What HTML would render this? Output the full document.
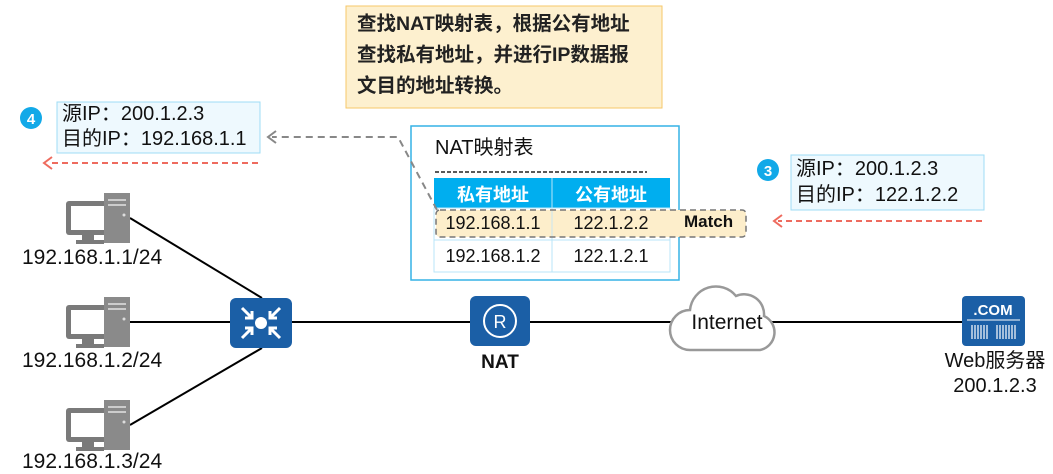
<!DOCTYPE html>
<html><head><meta charset="utf-8"><style>
body{margin:0;width:1053px;height:474px;background:#fff;overflow:hidden;position:relative;font-family:"Liberation Sans","Noto Sans CJK SC",sans-serif;color:#111}
.a{position:absolute;white-space:nowrap}
</style></head><body>
<svg class="a" style="left:0;top:0" width="1053" height="474">
<defs>
<g id="pc"><rect x="0" y="8" width="44" height="34" rx="3" fill="#7a7a7a"/><rect x="5" y="13" width="34" height="24" fill="#fff"/><rect x="16" y="42" width="12" height="6" fill="#7a7a7a"/><rect x="10" y="47" width="28" height="4" fill="#7a7a7a"/><rect x="38" y="0" width="26" height="50" fill="#8a8a8a"/><rect x="42" y="6" width="18" height="2" fill="#ccc"/><rect x="42" y="11" width="18" height="2" fill="#ccc"/><circle cx="58" cy="22" r="1.5" fill="#ddd"/></g>
</defs>
<line x1="130" y1="218" x2="262" y2="298" stroke="#000" stroke-width="2"/>
<line x1="130" y1="322" x2="232" y2="322" stroke="#000" stroke-width="2"/>
<line x1="130" y1="425" x2="262" y2="348" stroke="#000" stroke-width="2"/>
<line x1="292" y1="322" x2="965" y2="322" stroke="#000" stroke-width="2"/>
<use href="#pc" x="66" y="193"/><use href="#pc" x="66" y="297"/><use href="#pc" x="66" y="400"/>
<rect x="230" y="298" width="62" height="50" rx="6" fill="#1b5fa6"/>
<circle cx="261" cy="323" r="6" fill="#fff"/>
<g stroke="#fff" stroke-width="3" fill="none"><path d="M242 308l10 10M252 311v7h-7"/><path d="M280 308l-10 10M270 311v7h7"/><path d="M242 338l10-10M252 335v-7h-7"/><path d="M280 338l-10-10M270 335v-7h7"/></g>
<rect x="470" y="296" width="60" height="50" rx="6" fill="#1b5fa6"/>
<circle cx="500" cy="321" r="16" fill="none" stroke="#fff" stroke-width="2"/>
<text x="500" y="328" font-size="18" fill="#fff" text-anchor="middle" font-family="Liberation Sans">R</text>
<path d="M690 350 h70 a18 18 0 0 0 4 -34 a20 20 0 0 0 -28 -20 a26 26 0 0 0 -46 14 a20 20 0 0 0 0 40z" fill="#fff" stroke="#999" stroke-width="2.5"/>
<rect x="962" y="296" width="63" height="50" rx="4" fill="#1b5fa6"/>
<text x="993" y="315" font-size="15" font-weight="bold" fill="#fff" text-anchor="middle">.COM</text>
<line x1="967" y1="320" x2="1020" y2="320" stroke="#fff"/>
<g stroke="#fff" stroke-width="1.2"><path d="M972 325v14M975 325v14M978 325v14M981 325v14M984 325v14M987 325v14M997 325v14M1000 325v14M1003 325v14M1006 325v14M1009 325v14M1012 325v14M1015 325v14"/></g>
<rect x="346" y="6" width="316" height="102" fill="#fdf0cf" stroke="#f6c76a"/>
<rect x="57" y="102" width="203" height="51" fill="#eef9fe" stroke="#9fdcf5"/>
<circle cx="31" cy="118" r="11" fill="#12a9e8"/><text x="31" y="124" font-size="15" font-weight="bold" fill="#fff" text-anchor="middle">4</text>
<line x1="258" y1="163" x2="48" y2="163" stroke="#ee6b5e" stroke-width="2" stroke-dasharray="6,4"/>
<path d="M52 157l-8 6 8 6" fill="none" stroke="#ee6b5e" stroke-width="2"/>
<rect x="411" y="126" width="268" height="154" fill="#fff" stroke="#35b2e6" stroke-width="1.5"/>
<rect x="434" y="178" width="236" height="30" fill="#00aeef"/>
<rect x="434" y="208" width="236" height="64" fill="none" stroke="#b9e6f8"/>
<line x1="552" y1="178" x2="552" y2="272" stroke="#b9e6f8"/>
<line x1="434" y1="240" x2="670" y2="240" stroke="#b9e6f8"/>
<rect x="436" y="210" width="310" height="27" rx="4" fill="#fdeecb" stroke="#777" stroke-width="1.5" stroke-dasharray="6,4"/>
<line x1="552" y1="211" x2="552" y2="236" stroke="#c9e6f0"/>
<path d="M437 210 L398 137 L272 137" fill="none" stroke="#888" stroke-width="2" stroke-dasharray="7,5"/>
<path d="M276 131l-8 6 8 6" fill="none" stroke="#888" stroke-width="2"/>
<line x1="435" y1="172" x2="647" y2="172" stroke="#222" stroke-width="1.5" stroke-dasharray="4,2"/>
<rect x="791" y="155" width="193" height="55" fill="#eef9fe" stroke="#9fdcf5"/>
<circle cx="768" cy="170" r="11" fill="#12a9e8"/><text x="768" y="176" font-size="15" font-weight="bold" fill="#fff" text-anchor="middle">3</text>
<line x1="982" y1="221" x2="778" y2="221" stroke="#ee6b5e" stroke-width="2" stroke-dasharray="6,4"/>
<path d="M782 215l-8 6 8 6" fill="none" stroke="#ee6b5e" stroke-width="2"/>
</svg>
<div class="a" style="left:357px;top:9px;font-size:19.5px;line-height:31px;font-weight:bold;color:#222">查找NAT映射表，根据公有地址<br>查找私有地址，并进行IP数据报<br>文目的地址转换。</div>
<div class="a" style="left:62px;top:102px;font-size:20px;line-height:25px">源IP：200.1.2.3<br>目的IP：192.168.1.1</div>
<div class="a" style="left:796px;top:156px;font-size:20px;line-height:26px">源IP：200.1.2.3<br>目的IP：122.1.2.2</div>
<div class="a" style="left:435px;top:131px;font-size:20px">NAT映射表</div>
<div class="a" style="left:434px;top:181px;width:118px;text-align:center;color:#fff;font-weight:bold;font-size:18px">私有地址</div>
<div class="a" style="left:552px;top:181px;width:118px;text-align:center;color:#fff;font-weight:bold;font-size:18px">公有地址</div>
<div class="a" style="left:434px;top:213px;width:118px;text-align:center;font-size:18px">192.168.1.1</div>
<div class="a" style="left:552px;top:213px;width:118px;text-align:center;font-size:18px">122.1.2.2</div>
<div class="a" style="left:684px;top:212px;font-size:17px;font-weight:bold">Match</div>
<div class="a" style="left:434px;top:246px;width:118px;text-align:center;font-size:18px">192.168.1.2</div>
<div class="a" style="left:552px;top:246px;width:118px;text-align:center;font-size:18px">122.1.2.1</div>
<div class="a" style="left:22px;top:246px;font-size:21px">192.168.1.1/24</div>
<div class="a" style="left:22px;top:349px;font-size:21px">192.168.1.2/24</div>
<div class="a" style="left:22px;top:450px;font-size:21px">192.168.1.3/24</div>
<div class="a" style="left:465px;top:352px;width:70px;text-align:center;font-size:19px;font-weight:bold">NAT</div>
<div class="a" style="left:672px;top:311px;width:110px;text-align:center;font-size:21px">Internet</div>
<div class="a" style="left:930px;top:349px;width:130px;text-align:center;font-size:20px;line-height:25px">Web服务器<br>200.1.2.3</div>
</body></html>
